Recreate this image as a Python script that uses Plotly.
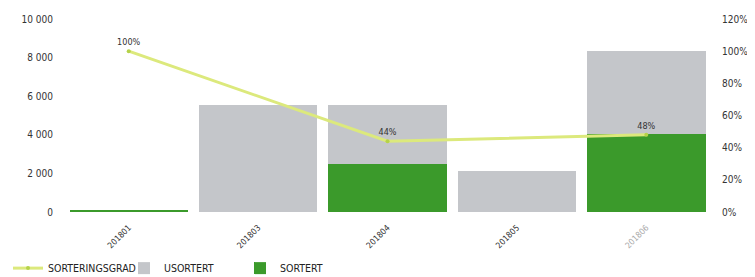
import plotly.graph_objects as go

categories = ["201801", "201803", "201804", "201805", "201806"]
usortert = [0, 5550, 3050, 2150, 4300]
sortert = [60, 0, 2500, 0, 4050]
sorteringsgrad = [100, None, 44, None, 48]
grad_labels = ["100%", "", "44%", "", "48%"]
left_ticks = [0, 2000, 4000, 6000, 8000, 10000]
left_labels = ["0", "2 000", "4 000", "6 000", "8 000", "10 000"]
right_ticks = [0, 20, 40, 60, 80, 100, 120]
right_labels = ["0%", "20%", "40%", "60%", "80%", "100%", "120%"]
x_labels = ["201801", "201803", "201804", "201805",
            "<span style='color:#aaaaaa'>201806</span>"]

FONT = "DejaVu Sans Condensed, Liberation Sans Narrow, sans-serif"
GRAY = "#c4c6ca"
GREEN = "#3b9a2b"
LINE = "#dce97c"

fig = go.Figure()
fig.add_trace(go.Scatter(
    x=categories, y=sorteringsgrad, yaxis="y2", name="SORTERINGSGRAD",
    mode="lines+markers+text", connectgaps=True, legendrank=1,
    line=dict(color=LINE, width=3), marker=dict(color="#b5d24a", size=4),
    text=grad_labels, textposition="top center",
    textfont=dict(family=FONT, size=9, color="#333333"),
))
fig.add_trace(go.Bar(x=categories, y=sortert, name="SORTERT", legendrank=3,
                     marker=dict(color=GREEN, line=dict(width=0))))
fig.add_trace(go.Bar(x=categories, y=usortert, name="USORTERT", legendrank=2,
                     marker=dict(color=GRAY, line=dict(width=0))))

# page body has an 8px margin, so the figure is sized to fill the rest of the window
fig.update_layout(
    width=747, height=269,
    margin=dict(l=56, r=44, t=11, b=65, autoexpand=False),
    barmode="stack", bargap=0.085,
    paper_bgcolor="white", plot_bgcolor="white",
    font=dict(family=FONT, size=10, color="#333333"),
    xaxis=dict(type="category", tickangle=-45, showgrid=False, showline=False,
               ticks="", tickvals=categories, ticktext=x_labels,
               ticklabelstandoff=8,
               tickfont=dict(size=8.5, color="#333333")),
    yaxis=dict(range=[0, 10000], tickvals=left_ticks, ticktext=left_labels,
               showgrid=False, zeroline=False, showline=False, ticks="",
               ticklabelstandoff=10),
    yaxis2=dict(range=[0, 120], tickvals=right_ticks, ticktext=right_labels,
                overlaying="y", side="right", showgrid=False, zeroline=False,
                showline=False, ticks="", ticklabelstandoff=10),
    legend=dict(orientation="h", xref="container", x=0, xanchor="left",
                yref="container", y=0.033, yanchor="middle",
                traceorder="normal", font=dict(size=10.5, color="#222222"),
                itemwidth=30, entrywidth=71, entrywidthmode="pixels"),
    showlegend=True,
)
fig.write_html("out.html")
